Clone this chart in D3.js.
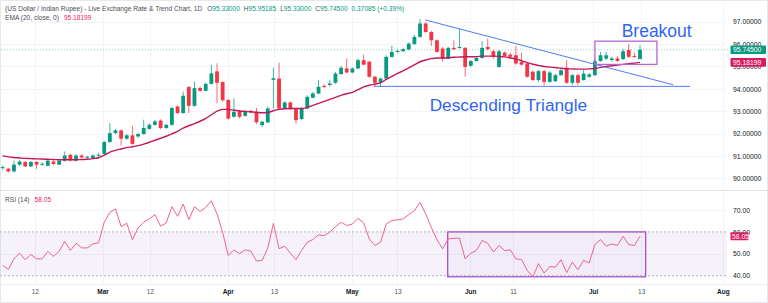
<!DOCTYPE html>
<html>
<head>
<meta charset="utf-8">
<script src="https://cdn.jsdelivr.net/npm/d3@7"></script>
<style>
  html, body { margin: 0; padding: 0; background: #fff; }
  svg { display: block; font-family: "Liberation Sans", Arial, sans-serif; }
</style>
</head>
<body>
<svg id="chart"></svg>
<script>
/* Data: daily USD/INR candles */
const opens = [90.46,90.43,90.31,90.61,90.73,90.53,90.73,90.63,90.56,90.75,90.61,90.79,91.05,90.79,91.02,90.94,90.91,91.04,91.09,91.62,
  92.02,92.14,91.77,91.92,91.87,91.98,92.21,92.39,92.58,92.25,92.39,93.21,92.92,94.08,93.24,94.04,93.91,94.22,94.78,94.30,
  93.50,92.75,93.00,92.79,93.02,92.97,92.38,92.50,94.40,94.46,93.12,93.39,93.09,92.65,93.12,93.60,93.79,94.13,94.17,94.27,
  94.66,94.91,94.73,94.91,95.28,95.21,94.54,94.27,94.46,95.43,95.65,95.68,95.76,96.00,96.32,96.92,96.54,96.17,95.80,95.35,
  95.83,95.83,95.83,95.03,95.24,95.38,95.87,95.68,94.98,95.62,95.53,95.50,95.21,95.13,94.76,94.39,94.79,94.31,94.34,94.61,
  94.94,94.27,94.61,94.39,94.54,94.61,95.24,95.35,95.29,95.36,95.33,95.74,95.47,95.33];
const highs = [90.58,90.47,90.80,90.83,90.77,90.77,90.77,90.72,90.85,90.80,90.83,91.20,91.10,91.08,91.08,91.01,91.08,91.14,91.68,92.47,
  92.21,92.19,91.99,92.35,92.04,92.62,92.46,92.62,92.64,92.44,93.20,93.26,93.88,94.13,94.33,94.09,94.29,95.07,95.14,94.33,
  93.55,93.58,93.06,93.06,93.06,93.15,92.57,93.20,94.94,95.17,93.44,93.44,93.13,93.17,93.71,93.87,94.39,94.20,94.40,94.76,
  95.03,95.35,94.96,95.36,95.53,95.25,94.58,94.51,95.50,95.92,95.74,95.83,96.08,96.41,97.11,96.97,96.59,96.21,95.88,95.87,
  96.17,96.69,95.87,95.29,95.43,96.13,96.25,95.74,95.74,95.67,95.61,95.92,95.61,95.18,94.83,94.85,94.85,94.80,94.67,94.89,
  95.28,94.67,94.67,94.85,94.71,95.34,95.65,95.65,95.43,95.47,95.79,96.01,95.61,95.95185];
const lows = [90.38,90.26,90.25,90.56,90.50,90.50,90.42,90.56,90.54,90.59,90.59,90.74,90.74,90.74,90.90,90.88,90.88,90.96,91.05,91.59,
  91.99,91.46,91.72,91.50,91.81,91.95,92.17,92.35,92.19,92.21,92.35,92.86,92.88,92.92,93.20,93.87,93.89,94.20,93.35,93.42,
  92.62,92.71,92.68,92.75,92.91,92.44,92.30,92.46,93.12,93.08,93.08,93.06,92.44,92.59,93.08,93.58,93.75,94.04,94.11,94.22,
  94.62,94.69,94.69,94.87,95.05,94.49,94.09,94.09,94.42,95.38,95.61,95.65,95.72,95.96,96.28,96.50,95.92,95.61,95.21,95.32,
  95.74,95.79,94.54,94.98,95.21,95.34,95.72,95.34,94.94,95.43,95.38,95.07,95.03,94.49,94.36,94.31,94.16,94.27,94.31,94.58,
  94.22,94.16,94.16,94.36,94.49,94.56,95.21,95.29,95.21,95.21,95.29,95.38,95.38,95.33];
const closes = [90.50,90.31,90.61,90.75,90.53,90.73,90.61,90.65,90.79,90.64,90.79,91.02,90.80,91.02,90.93,90.96,91.02,91.05,91.62,92.02,
  92.14,91.77,91.92,91.54,91.98,92.25,92.39,92.54,92.25,92.39,93.14,92.92,93.69,93.24,94.03,93.91,94.22,94.69,94.27,93.49,
  92.67,92.97,92.75,93.00,92.94,92.50,92.53,93.12,94.47,93.12,93.39,93.09,92.60,93.12,93.64,93.79,94.09,94.08,94.24,94.68,
  94.94,94.73,94.91,95.28,95.08,94.54,94.27,94.46,95.43,95.65,95.70,95.77,96.02,96.32,96.92,96.54,96.17,95.65,95.35,95.83,
  95.77,95.87,94.98,95.24,95.38,95.83,95.77,95.43,95.68,95.47,95.43,95.13,95.08,94.54,94.39,94.79,94.31,94.73,94.61,94.83,
  94.27,94.61,94.27,94.68,94.64,95.24,95.50,95.50,95.36,95.25,95.68,95.43,95.43,95.745];

/* EMA (20, close) as drawn */
const ema20 = [91.00,90.96,90.93,90.91,90.89,90.88,90.87,90.86,90.85,90.84,90.83,90.83,90.83,90.83,90.84,90.85,90.88,90.92,91.03,91.17,
  91.25,91.31,91.37,91.41,91.46,91.53,91.61,91.70,91.79,91.88,91.99,92.10,92.24,92.35,92.44,92.55,92.68,92.84,93.00,93.08,
  93.08,93.04,93.01,92.99,92.97,92.95,92.93,92.94,93.02,93.08,93.11,93.12,93.12,93.12,93.17,93.26,93.35,93.44,93.53,93.62,
  93.71,93.78,93.84,93.96,94.09,94.16,94.21,94.27,94.42,94.56,94.69,94.80,94.94,95.07,95.21,95.29,95.35,95.38,95.38,95.39,
  95.41,95.42,95.43,95.43,95.44,95.46,95.46,95.46,95.45,95.43,95.38,95.33,95.26,95.17,95.10,95.05,95.00,94.97,94.95,94.92,
  94.90,94.89,94.88,94.88,94.89,94.91,94.96,95.00,95.03,95.06,95.09,95.12,95.15,95.18199];

/* RSI (14) as drawn */
const rsi14 = [44.7,42.9,47.7,50.3,47.3,49.7,47.7,47.7,51.1,48.8,51.2,55.6,51.5,54.8,52.7,52.7,54.5,55.0,64.4,68.9,
  70.5,62.4,63.9,56.4,61.8,64.4,65.9,67.9,62.6,64.1,71.5,67.1,72.7,65.6,71.5,69.4,71.2,74.2,68.2,59.8,
  49.2,51.8,50.0,51.8,51.2,46.7,47.0,52.7,63.9,52.3,53.5,50.3,47.3,51.5,55.3,56.5,58.6,58.3,59.8,62.4,
  64.4,62.9,63.6,66.2,64.1,56.8,53.8,55.3,63.6,65.2,65.5,65.9,67.9,69.7,73.5,68.2,62.1,56.4,52.3,56.8,
  57.1,57.1,47.7,50.3,51.5,56.1,54.8,50.8,53.8,51.5,51.8,47.7,47.4,42.4,39.4,45.5,41.2,44.2,43.9,47.3,
  41.4,46.2,42.7,47.0,45.8,54.2,56.5,53.5,54.5,53.8,58.0,54.2,53.8,58.05];

/* Axis ticks */
const priceTicks = [90, 91, 92, 93, 94, 95, 96, 97];
const rsiTicks = [40, 50, 60, 70];
const dateTickIdx = [5.7, 17.7, 26.1, 39.9, 48.1, 61.9, 70, 82.9, 90.5, 104.7, 113.2, 127.7];
const dateTickLabels = ["12", "Mar", "12", "Apr", "13", "May", "13", "Jun", "11", "Jul", "13", "Aug"];

/* Annotations (bar index, price / rsi) */
const resistanceLine = [[74.9, 97.08], [118.9, 94.18]];
const supportLine = [[65.8, 94.11], [121.9, 94.11]];
const breakoutBox = { i0: 105.0, i1: 116.0, hi: 96.13, lo: 95.09 };
const rsiBox = { i0: 78.9, i1: 114.0, hi: 60, lo: 39.5 };
const rsiBand = [40, 60];

/* Layout */
const W = 768, H = 303;
const upColor = "#089981", downColor = "#f23645";
const emaColor = "#c2185b", rsiColor = "#f06292";

const candles = opens.map((o, i) => ({ i, o, h: highs[i], l: lows[i], c: closes[i] }));

const svg = d3.select("#chart").attr("width", W).attr("height", H);
svg.append("rect").attr("x", 0.5).attr("y", 0.5).attr("width", W - 1).attr("height", H - 1)
  .attr("fill", "#fff").attr("stroke", "#e6e8ee");

/* Scales */
const x = d3.scaleLinear().domain([0, 113]).range([2.7, 640]);
const yP = d3.scaleLinear().domain([90, 97]).range([178.3, 21.7]);
const yR = d3.scaleLinear().domain([40, 70]).range([275.7, 210]);

/* Grid */
const grid = svg.append("g").attr("stroke", "#f3f4f7").attr("stroke-width", 1);
grid.selectAll(".vg").data(dateTickIdx).join("line")
  .attr("x1", d => Math.round(x(d)) + 0.5).attr("x2", d => Math.round(x(d)) + 0.5)
  .attr("y1", 2).attr("y2", 284);
grid.selectAll(".hg").data(priceTicks).join("line")
  .attr("x1", 1).attr("x2", 726)
  .attr("y1", d => Math.round(yP(d)) + 0.5).attr("y2", d => Math.round(yP(d)) + 0.5);
grid.selectAll(".rg").data([50, 70]).join("line")
  .attr("x1", 1).attr("x2", 726)
  .attr("y1", d => Math.round(yR(d)) + 0.5).attr("y2", d => Math.round(yR(d)) + 0.5);

/* Pane separators */
svg.append("line").attr("x1", 0).attr("x2", W).attr("y1", 190.5).attr("y2", 190.5).attr("stroke", "#e0e3eb");
svg.append("line").attr("x1", 0).attr("x2", W).attr("y1", 284.5).attr("y2", 284.5).attr("stroke", "#eceef2");

/* Current price line */
svg.append("line")
  .attr("x1", 1).attr("x2", 730)
  .attr("y1", yP(closes[closes.length - 1])).attr("y2", yP(closes[closes.length - 1]))
  .attr("stroke", upColor).attr("stroke-opacity", 0.45).attr("stroke-dasharray", "1,2");

/* Candles */
const bw = 3.8;
const cg = svg.append("g");
cg.selectAll(".wick").data(candles).join("line")
  .attr("x1", d => x(d.i)).attr("x2", d => x(d.i))
  .attr("y1", d => yP(d.h)).attr("y2", d => yP(d.l))
  .attr("stroke", d => d.c >= d.o ? upColor : downColor)
  .attr("stroke-opacity", 0.75).attr("stroke-width", 1);
cg.selectAll(".body").data(candles).join("rect")
  .attr("x", d => x(d.i) - bw / 2)
  .attr("y", d => yP(Math.max(d.o, d.c)))
  .attr("width", bw)
  .attr("height", d => Math.max(1, Math.abs(yP(d.o) - yP(d.c))))
  .attr("fill", d => d.c >= d.o ? upColor : downColor);

/* EMA line */
svg.append("path")
  .datum(ema20)
  .attr("fill", "none").attr("stroke", emaColor).attr("stroke-width", 1.4)
  .attr("d", d3.line().x((d, i) => x(i)).y(d => yP(d)).curve(d3.curveMonotoneX));

/* Triangle lines */
const lineGen = d3.line().x(d => x(d[0])).y(d => yP(d[1]));
[resistanceLine, supportLine].forEach(l => {
  svg.append("path").datum(l).attr("d", lineGen)
    .attr("fill", "none").attr("stroke", "#4f7cf3").attr("stroke-width", 1);
});

/* Breakout box */
svg.append("rect")
  .attr("x", x(breakoutBox.i0)).attr("y", yP(breakoutBox.hi))
  .attr("width", x(breakoutBox.i1) - x(breakoutBox.i0))
  .attr("height", yP(breakoutBox.lo) - yP(breakoutBox.hi))
  .attr("fill", "none").attr("stroke", "#b565d4").attr("stroke-width", 1.3);

/* Annotation texts */
svg.append("text").attr("x", x(109.75)).attr("y", yP(96.32))
  .attr("font-size", 17.5).attr("fill", "#2f66f0").text("Breakout");
svg.append("text").attr("x", x(75.7)).attr("y", yP(93.0))
  .attr("font-size", 17.3).attr("fill", "#2f66f0").text("Descending Triangle");

/* RSI pane */
svg.append("rect")
  .attr("x", 0).attr("y", yR(rsiBand[1]))
  .attr("width", 727).attr("height", yR(rsiBand[0]) - yR(rsiBand[1]))
  .attr("fill", "#7e57c2").attr("fill-opacity", 0.08);
rsiBand.forEach(v => {
  svg.append("line").attr("x1", 0).attr("x2", 727)
    .attr("y1", yR(v)).attr("y2", yR(v))
    .attr("stroke", "#b2b5be").attr("stroke-dasharray", "2,2");
});
svg.append("rect")
  .attr("x", x(rsiBox.i0)).attr("y", yR(rsiBox.hi))
  .attr("width", x(rsiBox.i1) - x(rsiBox.i0))
  .attr("height", yR(rsiBox.lo) - yR(rsiBox.hi))
  .attr("fill", "#9c27b0").attr("fill-opacity", 0.03)
  .attr("stroke", "#a452c9").attr("stroke-width", 1.3);
svg.append("path")
  .datum(rsi14)
  .attr("fill", "none").attr("stroke", rsiColor).attr("stroke-width", 1)
  .attr("d", d3.line().x((d, i) => x(i)).y(d => yR(d)));

/* Right axes */
const priceAxis = svg.append("g").attr("transform", "translate(733,0)")
  .call(d3.axisRight(yP).tickValues(priceTicks).tickFormat(d3.format(".5f")).tickSize(0).tickPadding(0));
const rsiAxis = svg.append("g").attr("transform", "translate(733,0)")
  .call(d3.axisRight(yR).tickValues(rsiTicks).tickFormat(d3.format(".2f")).tickSize(0).tickPadding(0));
[priceAxis, rsiAxis].forEach(a => {
  a.select(".domain").remove();
  a.selectAll("text").attr("font-size", 6.8).attr("fill", "#131722")
    .attr("font-family", "Liberation Sans, Arial, sans-serif");
});

/* Bottom date axis */
const dateAxis = svg.append("g").attr("transform", "translate(0,289)")
  .call(d3.axisBottom(x).tickValues(dateTickIdx).tickFormat((d, i) => dateTickLabels[i]).tickSize(0).tickPadding(0));
dateAxis.select(".domain").remove();
dateAxis.selectAll("text")
  .attr("font-size", 6.5).attr("fill", "#131722")
  .attr("font-family", "Liberation Sans, Arial, sans-serif")
  .attr("font-weight", (d, i) => /^[A-Z]/.test(dateTickLabels[i]) ? "bold" : "normal")
  .attr("fill-opacity", (d, i) => /^[A-Z]/.test(dateTickLabels[i]) ? 1 : 0.8);

/* Value labels on the right scale */
function tag(y, color, label) {
  svg.append("rect").attr("x", 730.5).attr("y", y - 4.3).attr("width", 35.5).attr("height", 8.6)
    .attr("rx", 1).attr("fill", color);
  svg.append("text").attr("x", 733).attr("y", y).attr("dy", "0.35em")
    .attr("font-size", 6.8).attr("fill", "#fff").text(label);
}
tag(yP(closes[closes.length - 1]), upColor, closes[closes.length - 1].toFixed(5));
tag(yP(ema20[ema20.length - 1]), "#d81b60", ema20[ema20.length - 1].toFixed(5));
svg.append("rect").attr("x", 730.5).attr("y", yR(rsi14[rsi14.length - 1]) - 4)
  .attr("width", 18).attr("height", 8).attr("rx", 1).attr("fill", "#d81b60");
svg.append("text").attr("x", 732).attr("y", yR(rsi14[rsi14.length - 1])).attr("dy", "0.35em")
  .attr("font-size", 6.8).attr("fill", "#fff").text(rsi14[rsi14.length - 1].toFixed(2));

/* Legends */
const last = candles[candles.length - 1];
const head = svg.append("text").attr("x", 5).attr("y", 11).attr("font-size", 6.6).attr("fill", "#4a4d57");
head.append("tspan").text("(US Dollar / Indian Rupee) - Live Exchange Rate & Trend Chart, 1D");
[["O", last.o], ["H", last.h], ["L", last.l], ["C", last.c]].forEach((p, k) => {
  head.append("tspan").attr("dx", k === 0 ? 5 : 4).text(p[0]);
  head.append("tspan").attr("fill", upColor).text(p[1].toFixed(5));
});
head.append("tspan").attr("dx", 4).attr("fill", upColor).text("0.37085 (+0.39%)");

const emaHead = svg.append("text").attr("x", 5).attr("y", 19.5).attr("font-size", 6.6).attr("fill", "#4a4d57");
emaHead.append("tspan").text("EMA (20, close, 0)");
emaHead.append("tspan").attr("dx", 5).attr("fill", "#e91e63").text(ema20[ema20.length - 1].toFixed(5));

const rsiHead = svg.append("text").attr("x", 5).attr("y", 201.5).attr("font-size", 6.6).attr("fill", "#4a4d57");
rsiHead.append("tspan").text("RSI (14)");
rsiHead.append("tspan").attr("dx", 5).attr("fill", "#e91e63").text(rsi14[rsi14.length - 1].toFixed(2));
</script>
</body>
</html>
